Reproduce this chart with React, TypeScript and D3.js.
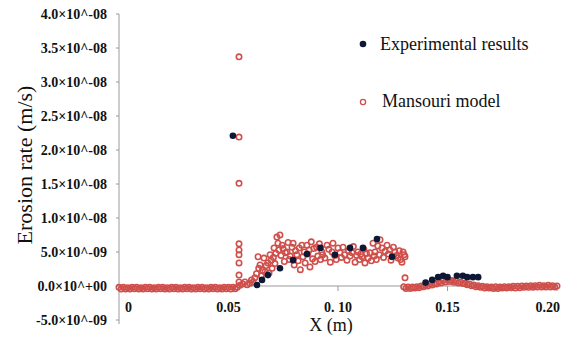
import React from 'react';
import * as d3 from 'd3';

// values are in units of 1e-9 m/s
const UNIT = 1e-9;

const experimental: [number, number][] = [
  [0.052, 22.1],
  [0.063, 0.15], [0.0653, 0.9], [0.068, 1.6], [0.0735, 2.6], [0.0795, 3.8],
  [0.0858, 4.7], [0.092, 5.6], [0.0986, 4.6], [0.1055, 5.6], [0.1114, 5.6],
  [0.1178, 6.9], [0.1247, 4.3],
  [0.14, 0.5], [0.143, 0.9], [0.1457, 1.3], [0.148, 1.5], [0.150, 1.3],
  [0.1543, 1.5], [0.157, 1.5], [0.159, 1.3], [0.1616, 1.3], [0.164, 1.3],
];

// model points along the flat part before the peak
const mansouriLeft: [number, number][] = [
  [0.000, -0.2], [0.001, -0.45], [0.002, -0.2], [0.003, -0.45], [0.004, -0.25], [0.005, -0.45],
  [0.006, -0.2], [0.007, -0.4], [0.008, -0.2], [0.009, -0.45], [0.010, -0.25], [0.011, -0.45],
  [0.012, -0.2], [0.013, -0.4], [0.014, -0.2], [0.015, -0.45], [0.016, -0.25], [0.017, -0.45],
  [0.018, -0.2], [0.019, -0.4], [0.020, -0.2], [0.021, -0.45], [0.022, -0.25], [0.023, -0.45],
  [0.024, -0.2], [0.025, -0.4], [0.026, -0.2], [0.027, -0.45], [0.028, -0.25], [0.029, -0.45],
  [0.030, -0.2], [0.031, -0.4], [0.032, -0.2], [0.033, -0.45], [0.034, -0.25], [0.035, -0.45],
  [0.036, -0.2], [0.037, -0.4], [0.038, -0.2], [0.039, -0.45], [0.040, -0.25], [0.041, -0.45],
  [0.042, -0.2], [0.043, -0.4], [0.044, -0.2], [0.045, -0.45], [0.046, -0.25], [0.047, -0.45],
  [0.048, -0.2], [0.049, -0.4], [0.050, -0.2], [0.051, -0.45], [0.052, -0.2], [0.053, -0.4],
  [0.054, -0.2],
];

// the spike at x = 0.055
const mansouriSpike: [number, number][] = [
  [0.0548, 33.7], [0.0548, 21.9], [0.0548, 15.1], [0.0548, 6.2], [0.0548, 5.3],
  [0.0548, 4.6], [0.0548, 3.4], [0.0548, 1.6], [0.0548, 0.6], [0.0552, 0.1],
];

// scattered model points of the erosion zone
const mansouriMid: [number, number][] = [
  [0.0565, 0.3], [0.0575, 0.6], [0.0585, 0.2], [0.0598, 0.4], [0.0605, 0.9], [0.0612, 0.6],
  [0.062, 1.2], [0.0628, 1.8], [0.0635, 4.3], [0.0638, 2.6], [0.0644, 3.1], [0.065, 1.5],
  [0.0655, 2.3], [0.0662, 4.1], [0.0667, 2.1], [0.0672, 3.0], [0.068, 3.4], [0.0685, 1.9],
  [0.069, 4.6], [0.0695, 3.8], [0.0699, 2.6], [0.0705, 4.2], [0.0708, 5.6], [0.0712, 3.3],
  [0.0716, 4.8], [0.0721, 7.2], [0.0726, 6.3], [0.073, 5.3], [0.0735, 7.5], [0.074, 4.5],
  [0.0745, 6.0], [0.0749, 5.5], [0.0755, 3.6], [0.076, 4.9], [0.0767, 5.0], [0.0772, 6.4],
  [0.0778, 3.9], [0.0782, 4.4], [0.079, 5.7], [0.0795, 6.3], [0.080, 3.1], [0.0806, 5.2],
  [0.0812, 4.6], [0.0818, 3.7], [0.0823, 5.6], [0.0828, 2.4], [0.0835, 6.0], [0.084, 4.3],
  [0.0846, 5.0], [0.085, 3.4], [0.0858, 6.0], [0.0862, 4.7], [0.0868, 5.3], [0.0872, 2.8],
  [0.0878, 6.5], [0.0884, 4.0], [0.089, 5.5], [0.0895, 3.6], [0.0902, 5.7], [0.0908, 4.4],
  [0.0915, 6.2], [0.092, 3.9], [0.0926, 5.0], [0.093, 4.6], [0.094, 4.1], [0.095, 6.0],
  [0.0958, 5.4], [0.0965, 3.5], [0.0973, 5.0], [0.0977, 6.3], [0.0985, 4.5], [0.0992, 3.9],
  [0.100, 5.6], [0.1009, 4.9], [0.1015, 4.2], [0.1023, 5.7], [0.103, 4.6], [0.1041, 3.8],
  [0.1048, 5.2], [0.1055, 4.4], [0.1064, 4.9], [0.107, 5.8], [0.1078, 3.5], [0.1085, 4.5],
  [0.1091, 5.0], [0.1098, 3.9], [0.1104, 4.7], [0.111, 4.3], [0.1118, 5.4], [0.1123, 3.4],
  [0.113, 4.8], [0.1138, 4.1], [0.1146, 4.9], [0.1152, 3.7], [0.116, 6.3], [0.1165, 4.4],
  [0.1169, 5.0], [0.1175, 3.9], [0.1182, 5.9], [0.1188, 4.6], [0.1192, 6.8], [0.1201, 5.6],
  [0.1208, 4.2], [0.1215, 5.1], [0.1224, 6.0], [0.123, 4.7], [0.1237, 5.3], [0.1242, 3.8],
  [0.1247, 4.3], [0.1253, 5.7], [0.126, 5.0], [0.1267, 4.5], [0.1274, 4.1], [0.128, 5.2],
  [0.1286, 3.9], [0.1292, 3.5], [0.1297, 5.0], [0.1302, 4.6], [0.1306, 4.3], [0.1306, 1.2],
];

// model points after the erosion zone, with the small bump near 0.15
const mansouriRight: [number, number][] = [
  [0.130, -0.1], [0.131, -0.35], [0.132, -0.15], [0.133, -0.35], [0.134, -0.15], [0.135, -0.3],
  [0.136, -0.1], [0.137, -0.25], [0.138, 0.0], [0.139, -0.1], [0.140, 0.1], [0.141, 0.0],
  [0.142, 0.3], [0.143, 0.15], [0.144, 0.4], [0.145, 0.3], [0.146, 0.6], [0.147, 0.45],
  [0.148, 0.8], [0.149, 0.6], [0.150, 0.9], [0.151, 0.65], [0.152, 0.8], [0.153, 0.55],
  [0.154, 0.7], [0.155, 0.45], [0.156, 0.6], [0.157, 0.35], [0.158, 0.4], [0.159, 0.2],
  [0.160, 0.3], [0.161, 0.05], [0.162, 0.15], [0.163, -0.1], [0.164, 0.05], [0.165, -0.2],
  [0.166, -0.05], [0.167, -0.3], [0.168, -0.1], [0.169, -0.3], [0.170, -0.15], [0.171, -0.35],
  [0.172, -0.1], [0.173, -0.35], [0.174, -0.15], [0.175, -0.3], [0.176, -0.1], [0.177, -0.3],
  [0.178, -0.1], [0.179, -0.25], [0.180, -0.05], [0.181, -0.3], [0.182, -0.05], [0.183, -0.25],
  [0.184, 0.0], [0.185, -0.2], [0.186, 0.0], [0.187, -0.2], [0.188, 0.05], [0.189, -0.2],
  [0.190, 0.05], [0.191, -0.15], [0.192, 0.1], [0.193, -0.15], [0.194, 0.05], [0.195, -0.15],
  [0.196, 0.1], [0.197, -0.15], [0.198, 0.05], [0.199, -0.15], [0.200, 0.0],
];

const xTicks = [0, 0.05, 0.1, 0.15, 0.2];
const xTickLabels = ['0', '0.05', '0. 10', '0.15', '0.20'];
const yTicks = [-5e-9, 0, 5e-9, 1e-8, 1.5e-8, 2e-8, 2.5e-8, 3e-8, 3.5e-8, 4e-8];

const RED = '#cf4f4b';
const NAVY = '#0c1836';
const AXIS = '#9a9a9a';
const SERIF = '"Liberation Serif"';

function fmtSci(v: number) {
  const [m, e] = v.toExponential(1).split('e');
  const n = parseInt(e, 10);
  const sign = n < 0 ? '-' : '+';
  return `${m}\u00d710^${sign}${String(Math.abs(n)).padStart(2, '0')}`;
}

export default function App() {
  const width = 566;
  const height = 340;

  const x = d3.scaleLinear().domain([0, 0.2]).range([119, 557]);
  const y = d3.scaleLinear().domain([-5e-9, 4e-8]).range([320, 14]);

  const mansouri = [...mansouriLeft, ...mansouriSpike, ...mansouriMid, ...mansouriRight];

  return (
    <div style={{ position: 'absolute', left: 0, top: 0 }}>
      <svg width={width} height={height} style={{ display: 'block', background: '#fff', fontFamily: SERIF }}>
        {/* y axis */}
        <line x1={x(0)} x2={x(0)} y1={y(4e-8)} y2={y(-5e-9) + 4} stroke={AXIS} strokeWidth={1} />
        {yTicks.map((t) => (
          <g key={t}>
            <line x1={x(0) - 3} x2={x(0)} y1={y(t)} y2={y(t)} stroke={AXIS} />
            <text
              x={107}
              y={y(t)}
              dy="0.38em"
              textAnchor="end"
              style={{ fontFamily: SERIF, fontWeight: 'bold', fontSize: '14px' }}
              fill="#111"
            >
              {fmtSci(t)}
            </text>
          </g>
        ))}

        {/* x axis at zero */}
        <line x1={x(0)} x2={x(0.2)} y1={y(0)} y2={y(0)} stroke={AXIS} strokeWidth={1} />
        {xTicks.map((t, i) => (
          <g key={t}>
            {i > 0 && <line x1={x(t)} x2={x(t)} y1={y(0)} y2={y(0) + 5} stroke={AXIS} />}
            <text
              x={i === 0 ? x(t) + 6 : i === xTicks.length - 1 ? x(t) + 3 : x(t)}
              y={307}
              dy="0.35em"
              textAnchor={i === 0 ? 'start' : i === xTicks.length - 1 ? 'end' : 'middle'}
              style={{ fontFamily: SERIF, fontWeight: 'bold', fontSize: '14px' }}
              fill="#111"
            >
              {xTickLabels[i]}
            </text>
          </g>
        ))}

        {/* axis titles */}
        <text
          transform={`translate(32, 165) rotate(-90)`}
          textAnchor="middle"
          style={{ fontFamily: SERIF, fontSize: '22px' }}
          fill="#111"
        >
          Erosion rate (m/s)
        </text>
        <text x={331} y={331} textAnchor="middle" style={{ fontFamily: SERIF, fontSize: '18px' }} fill="#111">
          X (m)
        </text>

        {/* model */}
        <g>
          {mansouri.map((d, i) => (
            <circle
              key={'m' + i}
              cx={x(d[0])}
              cy={y(d[1] * UNIT)}
              r={2.7}
              fill="none"
              stroke={RED}
              strokeWidth={1.6}
            />
          ))}
        </g>

        {/* experiment */}
        <g>
          {experimental.map((d, i) => (
            <circle key={'e' + i} cx={x(d[0])} cy={y(d[1] * UNIT)} r={3.3} fill={NAVY} />
          ))}
        </g>

        {/* legend */}
        <circle cx={363} cy={44} r={3.3} fill={NAVY} />
        <text x={380} y={50} style={{ fontFamily: SERIF, fontSize: '18px' }} fill="#111">
          Experimental results
        </text>
        <circle cx={363} cy={102} r={2.6} fill="none" stroke={RED} strokeWidth={1.3} />
        <text x={382} y={107} style={{ fontFamily: SERIF, fontSize: '18px' }} fill="#111">
          Mansouri model
        </text>
      </svg>
    </div>
  );
}
